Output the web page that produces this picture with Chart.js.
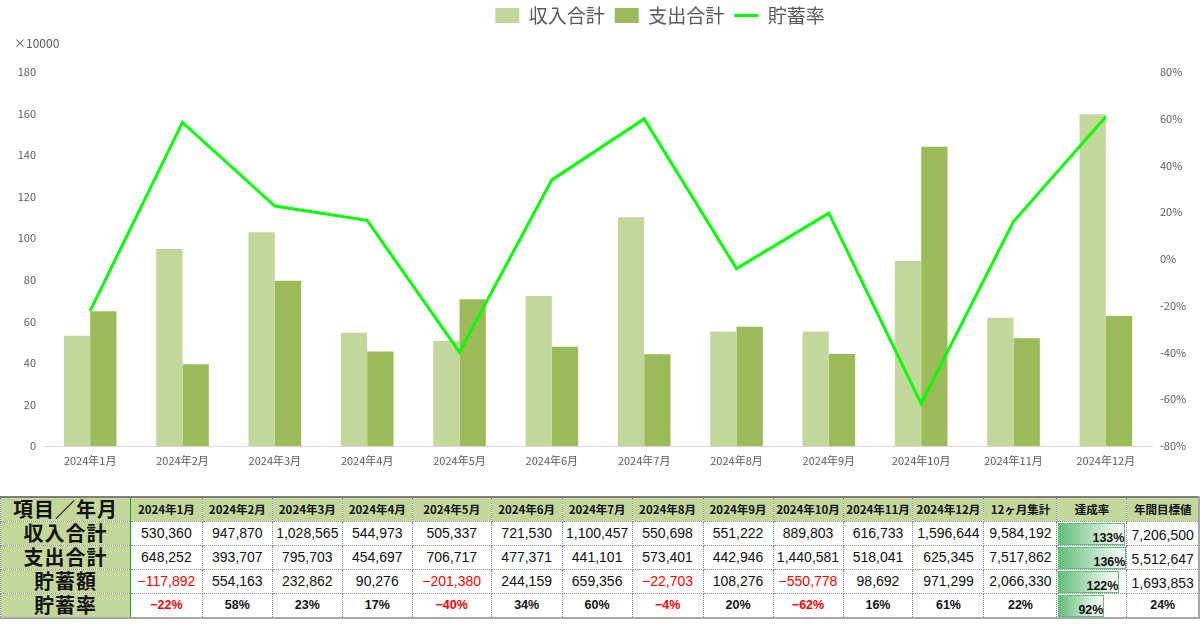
<!DOCTYPE html>
<html lang="ja">
  <head>
    <meta charset="UTF-8" />
    <title>収支グラフ</title>
    <script src="https://cdn.jsdelivr.net/npm/chart.js@4.4.1/dist/chart.umd.min.js"></script>
    <style>
      body {
        margin: 0;
        background: #fff;
        width: 1200px;
        height: 630px;
        position: relative;
        overflow: hidden;
        font-family: "Noto Sans CJK JP", "Liberation Sans", sans-serif;
      }
      #wrap {
        position: absolute;
        left: 0;
        top: 0;
        width: 1200px;
        height: 490px;
      }
      #unit {
        position: absolute;
        left: 14px;
        top: 34px;
        font-size: 12px;
        color: #595959;
      }
      #tbl {
        position: absolute;
        left: 0;
        top: 496px;
        border-collapse: collapse;
        table-layout: fixed;
        border-top: 2px solid #7f7f7f;
        border-bottom: 2px solid #a6a6a6;
        border-right: 2px solid #a6a6a6;
      }
      #tbl td {
        height: 24px;
        padding: 0 2px;
        border: 1px dotted #8c8c8c;
        text-align: center;
        font-family: "Liberation Sans", "Noto Sans CJK JP", sans-serif;
        font-size: 14px;
        color: #111;
        white-space: nowrap;
        overflow: hidden;
        box-sizing: border-box;
      }
      #tbl tr.head td {
        background: #c4d79b;
        font-size: 11.5px;
        font-weight: bold;
        font-family: "Noto Sans CJK JP", sans-serif;
      }
      #tbl tr.pct td {
        font-weight: bold;
        font-size: 12.5px;
      }
      #tbl tr td.lbl {
        background: #c4d79b;
        font-family: "Noto Sans CJK JP", sans-serif;
        font-weight: bold;
        font-size: 20px;
        letter-spacing: 1px;
        border-right: 1px solid #2ca02c;
        line-height: 22px;
        color: #111;
      }
      #tbl td.neg {
        color: #ff0000;
      }
      #tbl td.bar {
        padding: 1px 0 0 1px;
        text-align: left;
        vertical-align: bottom;
      }
      #tbl td.bar div {
        height: 22px;
        background: linear-gradient(to right, #63be7b, #ffffff);
        border: 1px solid #63be7b;
        box-sizing: border-box;
        text-align: right;
        line-height: 28px;
        font-size: 12.5px;
        font-weight: bold;
      }
      #tbl td.low {
        vertical-align: bottom;
        line-height: 20px;
      }
    </style>
  </head>
  <body>
    <div id="wrap"><canvas id="myChart" width="1200" height="490"></canvas></div>
    <div id="unit">×10000</div>
    <table id="tbl"></table>
    <script>
      const months = [
        "2024年1月", "2024年2月", "2024年3月", "2024年4月", "2024年5月", "2024年6月",
        "2024年7月", "2024年8月", "2024年9月", "2024年10月", "2024年11月", "2024年12月",
      ];
      const income = [530360, 947870, 1028565, 544973, 505337, 721530, 1100457, 550698, 551222, 889803, 616733, 1596644];
      const expense = [648252, 393707, 795703, 454697, 706717, 477371, 441101, 573401, 442946, 1440581, 518041, 625345];
      const savings = [-117892, 554163, 232862, 90276, -201380, 244159, 659356, -22703, 108276, -550778, 98692, 971299];
      const savingRate = [-22.23, 58.46, 22.64, 16.57, -39.85, 33.84, 59.92, -4.12, 19.64, -61.9, 16.0, 60.83];

      // 集計・達成率・年間目標値
      const totals = [9584192, 7517862, 2066330, 21.56];
      const achieve = [133, 136, 122, 92];
      const achieveBar = [67, 68, 61, 46];
      const targets = [7206500, 5512647, 1693853, 24];

      const rowLabels = ["収入合計", "支出合計", "貯蓄額", "貯蓄率"];
      const colWidths = [130, 72, 70, 70, 70, 79, 71, 70, 71, 70, 70, 70, 71, 73, 68, 72];

      const leftColor = "#c4d79b";
      const rightColor = "#9bbb59";
      const lineColor = "#00ff00";
      const tickColor = "#595959";

      const ctx = document.getElementById("myChart").getContext("2d");
      const myChart = new Chart(ctx, {
        data: {
          labels: months,
          datasets: [
            {
              type: "line",
              label: "貯蓄率",
              data: savingRate,
              yAxisID: "y1",
              borderColor: lineColor,
              backgroundColor: lineColor,
              borderWidth: 3,
              pointRadius: 0,
              tension: 0,
              order: 0,
              pointStyle: "line",
            },
            {
              type: "bar",
              label: "収入合計",
              data: income,
              backgroundColor: leftColor,
              yAxisID: "y",
              order: 1,
              pointStyle: "rect",
            },
            {
              type: "bar",
              label: "支出合計",
              data: expense,
              backgroundColor: rightColor,
              yAxisID: "y",
              order: 1,
              pointStyle: "rect",
            },
          ],
        },
        options: {
          responsive: false,
          animation: false,
          layout: { padding: { left: 0, right: 0, top: 0, bottom: 0 } },
          datasets: {
            bar: { categoryPercentage: 0.57, barPercentage: 1.0 },
          },
          plugins: {
            tooltip: { enabled: false },
            legend: {
              position: "top",
              labels: {
                usePointStyle: true,
                pointStyleWidth: 24,
                boxHeight: 15,
                padding: 10,
                color: tickColor,
                font: { size: 19, family: "'Noto Sans CJK JP'" },
                sort: (a, b) => a.datasetIndex === 0 ? 1 : b.datasetIndex === 0 ? -1 : a.datasetIndex - b.datasetIndex,
              },
            },
          },
          scales: {
            x: {
              grid: { display: false, drawTicks: false },
              border: { color: "#d9d9d9", width: 1 },
              ticks: {
                color: tickColor,
                padding: 8,
                maxRotation: 0,
                font: { size: 11, family: "'Noto Sans CJK JP'" },
              },
              afterFit: (s) => { s.height = 44; },
            },
            y: {
              position: "left",
              min: 0,
              max: 1800000,
              grid: { display: false, drawTicks: false },
              border: { display: false },
              ticks: {
                stepSize: 200000,
                color: tickColor,
                padding: 8,
                font: { size: 11, family: "'Noto Sans CJK JP'" },
                callback: (v) => v / 10000,
              },
              afterFit: (s) => { s.width = 44; },
            },
            y1: {
              position: "right",
              min: -80,
              max: 80,
              grid: { display: false, drawTicks: false },
              border: { display: false },
              ticks: {
                stepSize: 20,
                color: tickColor,
                padding: 8,
                font: { size: 11, family: "'Noto Sans CJK JP'" },
                callback: (v) => v + "%",
              },
              afterFit: (s) => { s.width = 48; },
            },
          },
        },
        plugins: [
          {
            id: "legendSize",
            afterInit(chart) {
              const lg = chart.legend;
              const fit = lg.fit;
              lg.fit = function () {
                fit.call(this);
                this.height = 72;
              };
            },
            afterLayout(chart) {
              chart.legend.left += 60;
              chart.legend.right += 60;
              chart.legend.top -= 4;
            },
          },
        ],
      });

      // 表の作成
      const fmt = (n) => n.toLocaleString("en-US").replace("-", "−");
      const tbl = document.getElementById("tbl");
      const colgroup = document.createElement("colgroup");
      colWidths.forEach((w) => {
        const c = document.createElement("col");
        c.style.width = w + "px";
        colgroup.appendChild(c);
      });
      tbl.appendChild(colgroup);

      let html = '<tr class="head"><td class="lbl">項目／年月</td>';
      months.forEach((m) => { html += "<td>" + m + "</td>"; });
      html += "<td>12ヶ月集計</td><td>達成率</td><td>年間目標値</td></tr>";

      const rows = [income, expense, savings, savingRate];
      rows.forEach((arr, r) => {
        const isPct = r === 3;
        html += '<tr class="' + (isPct ? "pct" : "") + '"><td class="lbl">' + rowLabels[r] + "</td>";
        arr.forEach((v) => {
          const txt = isPct ? fmt(Math.round(v)) + "%" : fmt(v);
          html += '<td class="' + (v < 0 ? "neg" : "") + '">' + txt + "</td>";
        });
        const tot = isPct ? Math.round(totals[r]) + "%" : fmt(totals[r]);
        html += "<td>" + tot + "</td>";
        html += '<td class="bar"><div style="width:' + achieveBar[r] + 'px">' + achieve[r] + "%</div></td>";
        const tg = isPct ? targets[r] + "%" : fmt(targets[r]);
        html += '<td class="' + (isPct ? "" : "low") + '">' + tg + "</td></tr>";
      });
      tbl.innerHTML += html;
    </script>
  </body>
</html>
